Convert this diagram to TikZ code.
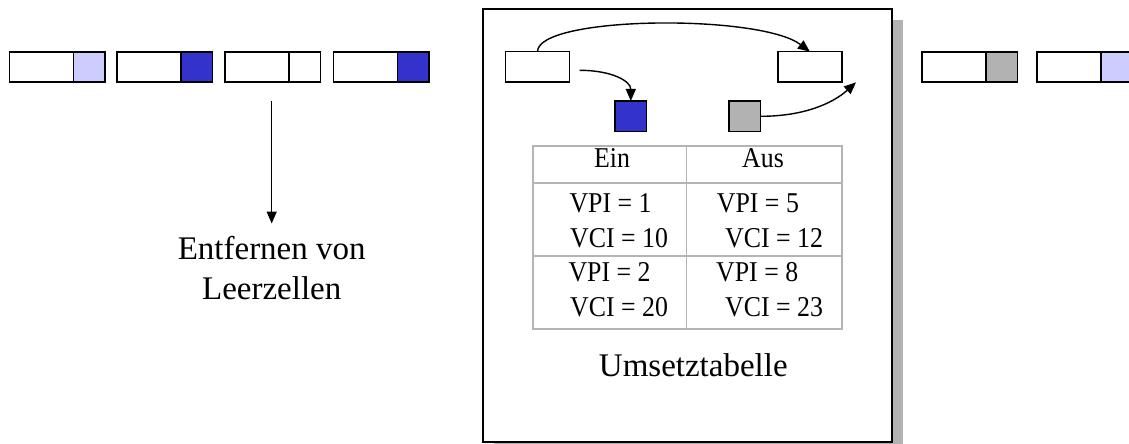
\documentclass[tikz,border=0pt]{standalone}
\usepackage{fontspec}
\setmainfont{Liberation Serif}
\newfontfamily\tabfont[FakeStretch=0.9]{Liberation Serif}
\usepackage{xcolor}
\definecolor{CellLilac}{HTML}{CCCCFF}
\definecolor{CellBlue}{HTML}{3333CC}
\definecolor{CellGray}{HTML}{B2B2B2}
\definecolor{ShadowGray}{HTML}{B2B2B2}
\definecolor{RuleGray}{HTML}{B4B4B4}
\usepackage{tikz}
\usetikzlibrary{arrows.meta,positioning,shadows}
\tikzset{
  cellhdr/.style={
    draw=black,
    fill=white,
    line width=1.6pt,
    minimum width=64pt,
    minimum height=30pt,
    inner sep=0pt,
    outer sep=0pt
  },
  cellpay/.style={
    cellhdr,
    minimum width=31.7pt
  },
  switchbox/.style={
    draw=black,
    fill=white,
    line width=2pt,
    minimum width=408.4pt,
    minimum height=432.7pt,
    drop shadow={shadow xshift=11pt,shadow yshift=-11pt,fill=ShadowGray,opacity=1}
  },
  bigtext/.style={
    font=\fontsize{33}{40}\selectfont,
    align=center,
    inner sep=0pt
  },
  tabtext/.style={
    font=\tabfont\fontsize{28.7}{30}\selectfont,
    inner sep=0pt
  },
  tabrule/.style={
    draw=RuleGray,
    line width=2pt
  },
  flow/.style={
    draw=black,
    -{Triangle[length=12pt,width=10pt]},
    line width=1.4pt
  }
}

\begin{document}
\begin{tikzpicture}[x=1pt,y=-1pt]
  \useasboundingbox (0,0) rectangle (1129,444);
  % cell stream, header part + payload part
  \foreach \x/\col [count=\i] in {9.3/CellLilac,116.7/CellBlue,224.7/white,333.3/CellBlue,921.7/CellGray,1036.7/CellLilac}{
    \node[cellhdr,anchor=west] (h\i) at (\x,66.8) {};
    \node[cellpay,fill=\col,right=0pt of h\i] (p\i) {};
  }

  % removal of idle cells
  \coordinate (leer) at (271.7,101);
  \node[bigtext,anchor=north] (entf) at (271.7,236.5) {Entfernen von\\Leerzellen};
  \draw[flow,shorten >=13pt] (leer) -- (entf.north);

  % switching unit
  \node[switchbox] (umsetzer) at (687.5,225.4) {};
  \node[cellhdr] (einz) at (537.5,66.7) {};
  \node[cellhdr] (ausz) at (809.9,66.7) {};
  \node[cellpay,fill=CellBlue,minimum height=30.7pt] (blau) at (630.8,116.3) {};
  \node[cellpay,fill=CellGray,minimum height=30.7pt] (grau) at (744.8,116.3) {};
  \coordinate (ausein) at (856,82.3);
  \draw[flow] (einz.north) .. controls +(0,-36) and +(-50,-38) .. (ausz.north);
  \draw[flow] ([xshift=10pt,yshift=-3.6pt]einz.east) .. controls +(32,0) and +(0,-20) .. (blau.north);
  \draw[flow] (grau.east) .. controls +(45,0) and +(-22,20) .. (ausein);

  % translation table
  \draw[tabrule] (532.7,146) rectangle (841.7,328.5);
  \draw[tabrule] (532.7,183.3) -- (841.7,183.3);
  \draw[tabrule] (532.7,255.7) -- (841.7,255.7);
  \draw[draw=RuleGray,line width=1pt] (686.7,146) -- (686.7,328.5);
  \node[tabtext,anchor=base] (ein) at (612,167.3) {Ein};
  \node[tabtext,anchor=base] (aus) at (763,167.3) {Aus};
  \node[tabtext,anchor=base west] (vpi1) at (569.3,212.3) {VPI = 1};
  \node[tabtext,anchor=base west] (vci1) at (570,247.3) {VCI = 10};
  \node[tabtext,anchor=base west] (vpi2) at (568.3,281.7) {VPI = 2};
  \node[tabtext,anchor=base west] (vci2) at (570,316.7) {VCI = 20};
  \node[tabtext,anchor=base west] (vpi5) at (716.7,212.3) {VPI = 5};
  \node[tabtext,anchor=base west] (vci12) at (725,247.3) {VCI = 12};
  \node[tabtext,anchor=base west] (vpi8) at (716,281.7) {VPI = 8};
  \node[tabtext,anchor=base west] (vci23) at (725,316.7) {VCI = 23};
  \node[bigtext,anchor=base] (titel) at (693.3,376.7) {Umsetztabelle};
\end{tikzpicture}
\end{document}
